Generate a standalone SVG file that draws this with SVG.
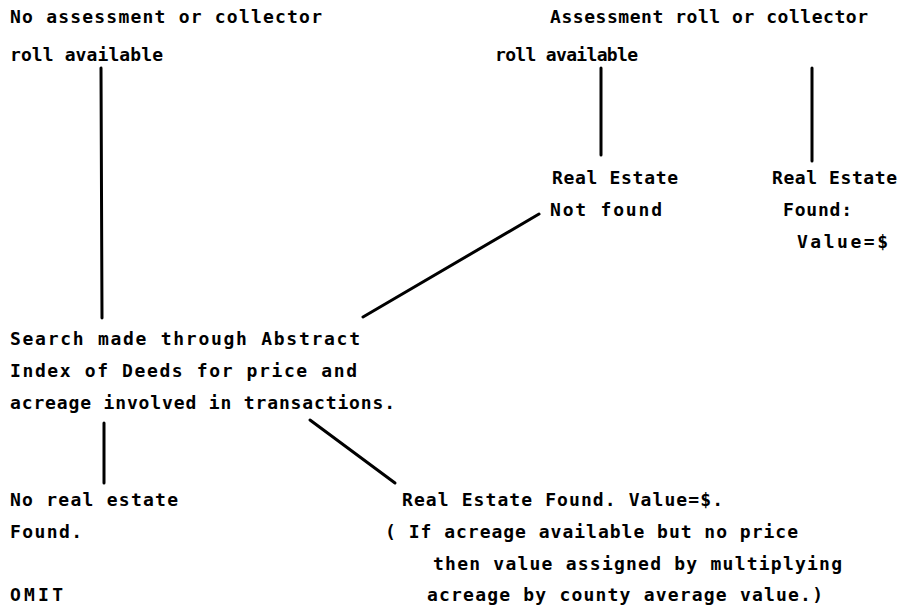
<svg xmlns="http://www.w3.org/2000/svg" width="901" height="607" viewBox="0 0 901 607">
  <style>
    text { font-family: "DejaVu Sans Mono", "Liberation Mono", monospace; font-weight: bold; font-size: 18px; fill: #000; }
    .link { stroke: #000; stroke-width: 3; stroke-linecap: round; fill: none; }
  </style>
  <rect width="901" height="607" fill="#fff"/>

  <!-- connectors -->
  <g id="connectors">
    <line class="link" x1="101" y1="68" x2="102" y2="318"/>
    <line class="link" x1="601" y1="68" x2="601" y2="155"/>
    <line class="link" x1="812" y1="68" x2="812" y2="161"/>
    <line class="link" x1="539" y1="214" x2="363" y2="317"/>
    <line class="link" x1="104" y1="423" x2="104" y2="483"/>
    <line class="link" x1="310" y1="420" x2="395" y2="483"/>
  </g>

  <g id="no-roll">
    <text x="10" y="23" textLength="312" lengthAdjust="spacing">No assessment or collector</text>
    <text x="10" y="61" textLength="153" lengthAdjust="spacing">roll available</text>
  </g>

  <g id="roll-available">
    <text x="550" y="23" textLength="318" lengthAdjust="spacing">Assessment roll or collector</text>
    <text x="495" y="61" textLength="143" lengthAdjust="spacing">roll available</text>
  </g>

  <g id="not-found">
    <text x="552" y="184" textLength="126" lengthAdjust="spacing">Real Estate</text>
    <text x="550" y="216" textLength="112" lengthAdjust="spacing">Not found</text>
  </g>

  <g id="found">
    <text x="772" y="184" textLength="125" lengthAdjust="spacing">Real Estate</text>
    <text x="783" y="216" textLength="69" lengthAdjust="spacing">Found:</text>
    <text x="797" y="248" textLength="91" lengthAdjust="spacing">Value=$</text>
  </g>

  <g id="search">
    <text x="10" y="345" textLength="350" lengthAdjust="spacing">Search made through Abstract</text>
    <text x="10" y="377" textLength="347" lengthAdjust="spacing">Index of Deeds for price and</text>
    <text x="10" y="409" textLength="385" lengthAdjust="spacing">acreage involved in transactions.</text>
  </g>

  <g id="omit">
    <text x="10" y="506" textLength="168" lengthAdjust="spacing">No real estate</text>
    <text x="10" y="538" textLength="72" lengthAdjust="spacing">Found.</text>
    <text x="10" y="601" textLength="53" lengthAdjust="spacing">OMIT</text>
  </g>

  <g id="value-found">
    <text x="402" y="506" textLength="321" lengthAdjust="spacing">Real Estate Found. Value=$.</text>
    <text x="385" y="538" textLength="413" lengthAdjust="spacing">( If acreage available but no price</text>
    <text x="433" y="570" textLength="409" lengthAdjust="spacing">then value assigned by multiplying</text>
    <text x="427" y="601" textLength="396" lengthAdjust="spacing">acreage by county average value.)</text>
  </g>
</svg>
